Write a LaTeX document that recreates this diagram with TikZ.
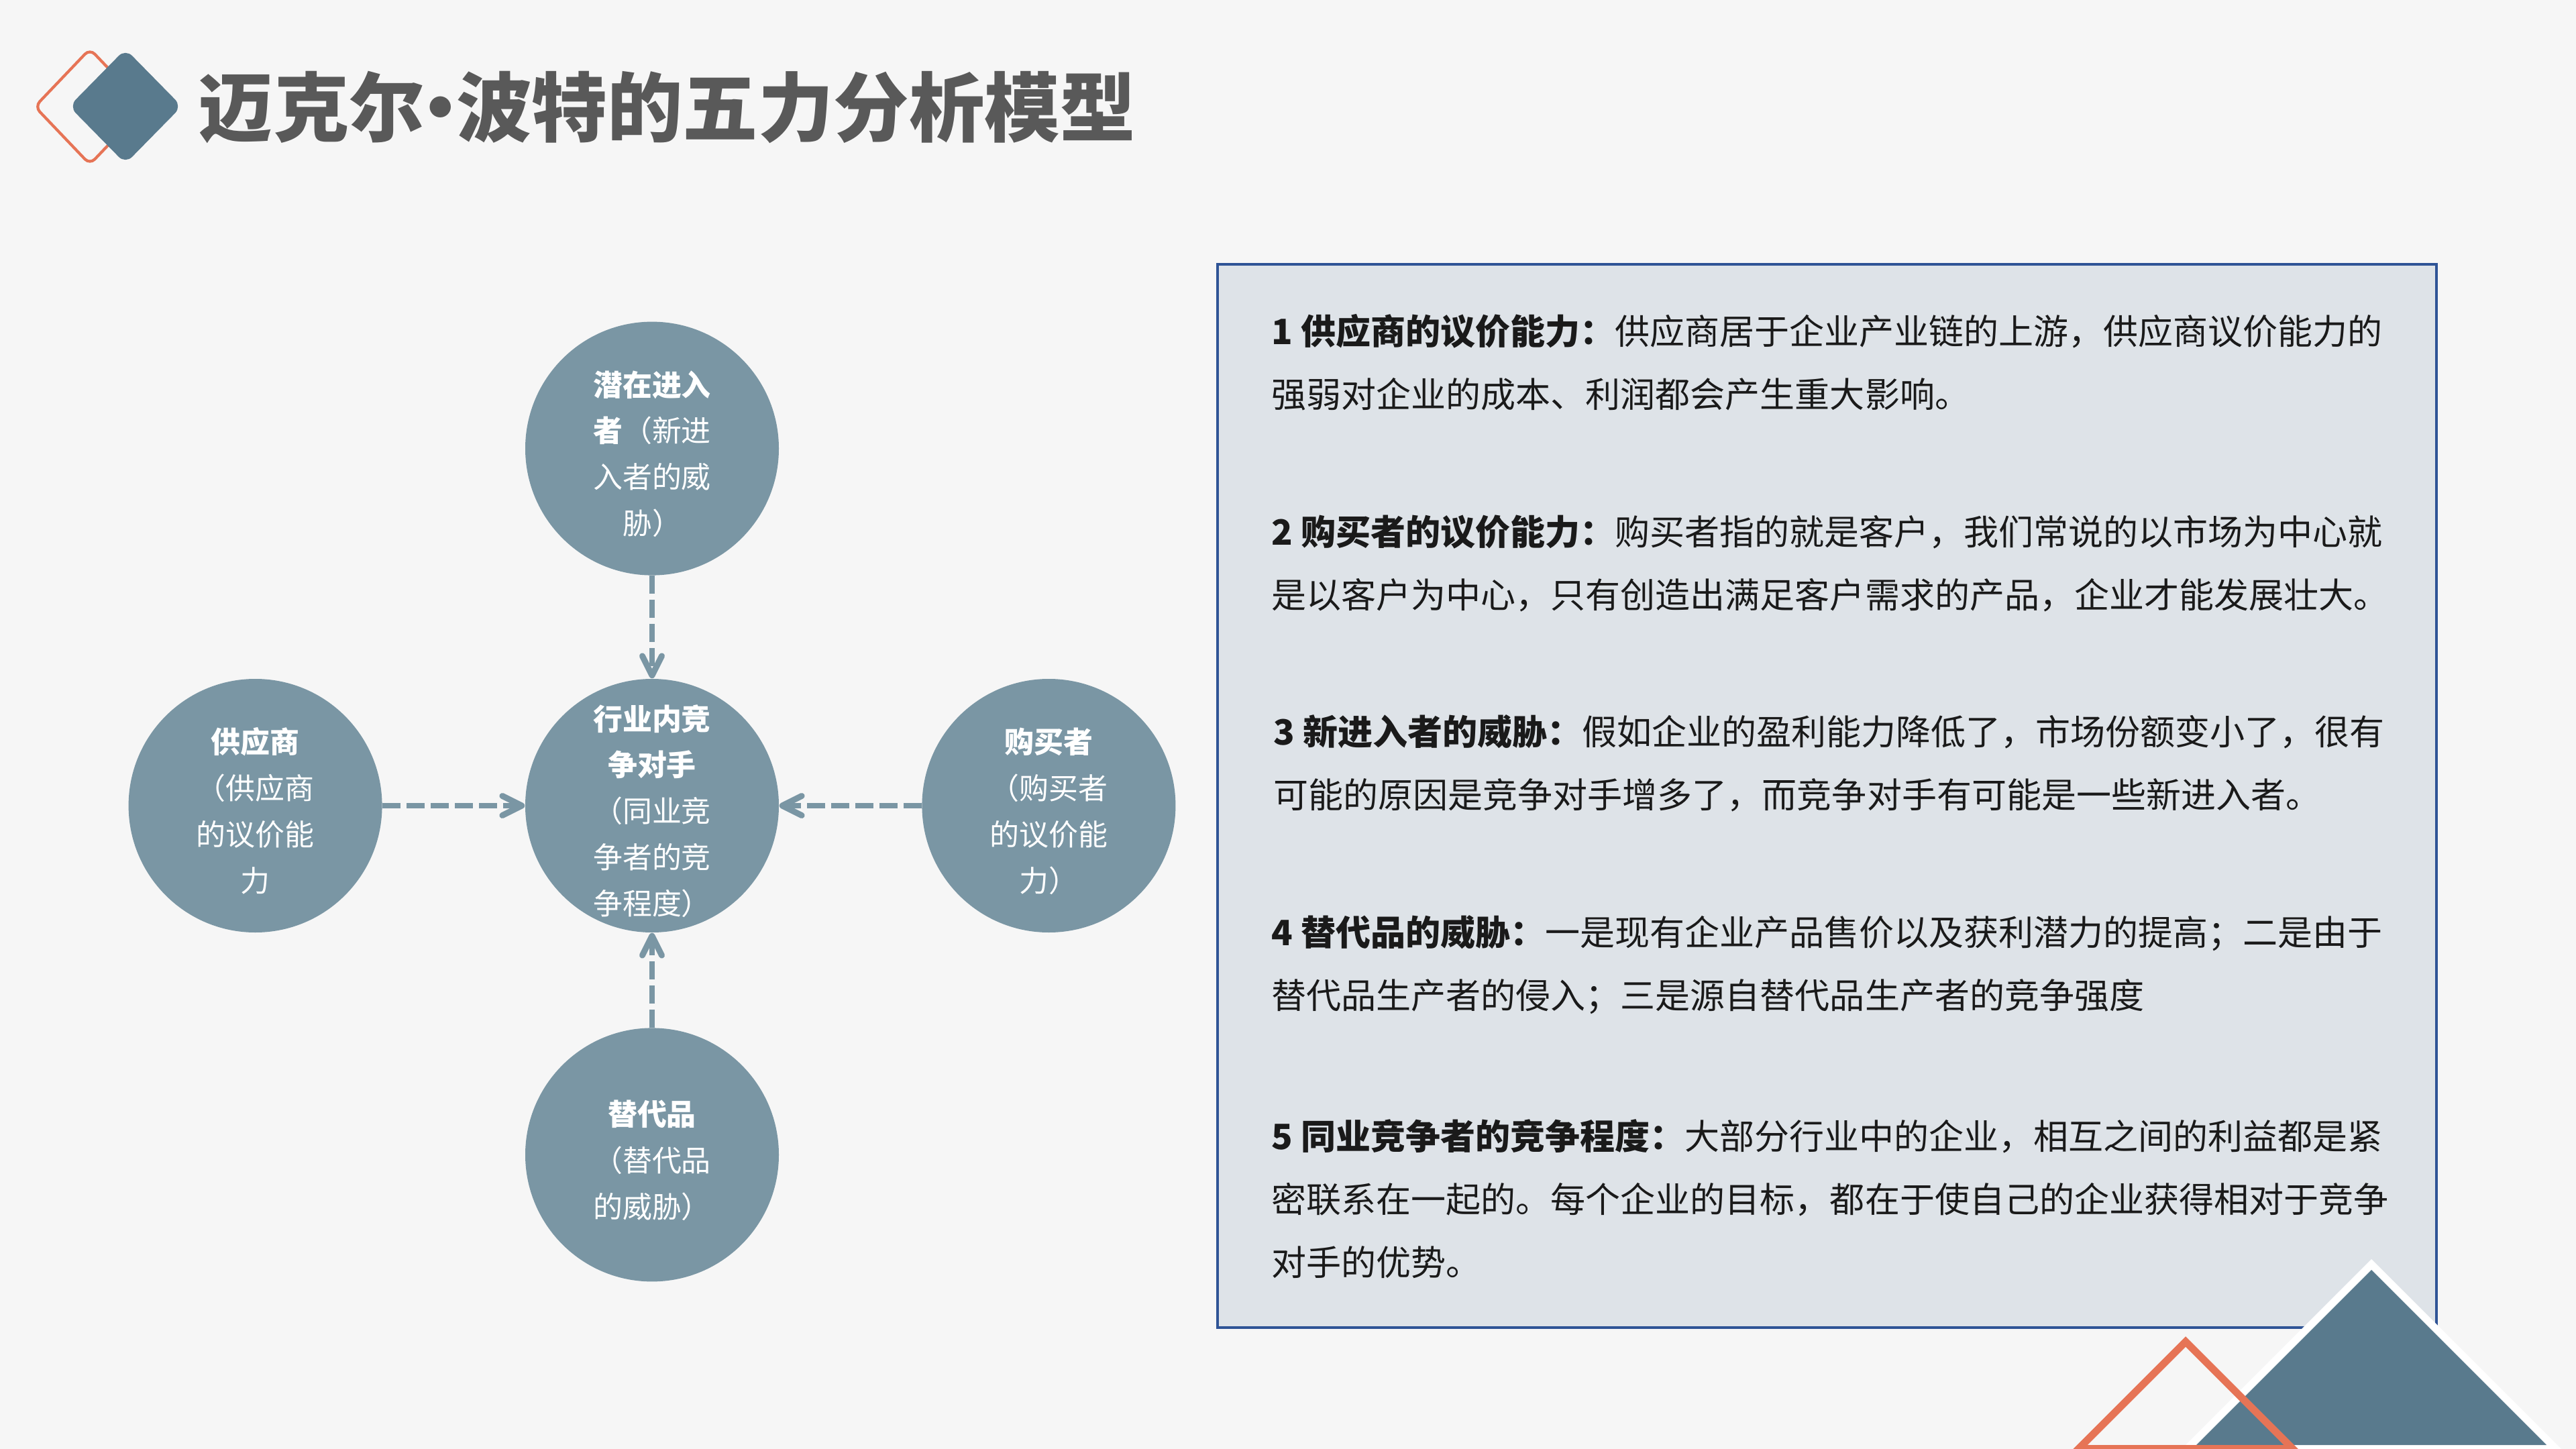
\documentclass[tikz,border=0pt]{standalone}
\usepackage{fontspec}
\setmainfont{Noto Sans CJK SC}
\usetikzlibrary{arrows.meta,positioning}
\definecolor{bg}{RGB}{246,246,246}
\definecolor{slate}{RGB}{89,122,141}
\definecolor{forcefill}{RGB}{122,150,164}
\definecolor{coral}{RGB}{230,116,86}
\definecolor{panelfill}{RGB}{222,227,232}
\definecolor{panelline}{RGB}{47,84,150}
\definecolor{titlegray}{RGB}{89,89,89}
\definecolor{ink}{RGB}{26,26,26}
\tikzset{
  force/.style={circle,fill=forcefill,minimum size=3.78cm,inner sep=0pt},
  forcetxt/.style={text=white,align=center,inner sep=0pt,font=\fontsize{12.5}{19.6}\selectfont},
  flow/.style={-{Straight Barb[round,length=2.9mm,width=2.9mm]},line width=2.55pt,draw=forcefill,dash pattern=on 7.7pt off 2.55pt},
  panel/.style={draw=panelline,fill=panelfill,line width=1.1pt,minimum width=18.17cm,minimum height=15.85cm,inner sep=0pt},
  para/.style={anchor=west,align=left,text=ink,inner sep=0pt,font=\fontsize{14.8}{26.75}\selectfont},
  titletxt/.style={anchor=west,text=titlegray,inner sep=0pt,font=\fontsize{32}{38}\selectfont\bfseries},
}
\begin{document}
\begin{tikzpicture}
  % page
  \fill[bg] (0,0) rectangle (38.4,-21.6);
  \useasboundingbox (0,0) rectangle (38.4,-21.6);

  % title with logo
  \draw[coral,line width=1.2pt,rounded corners=3pt] (1.34,-0.73) -- (2.16,-1.59) -- (1.34,-2.45) -- (0.52,-1.59) -- cycle;
  \fill[slate,rounded corners=4pt] (1.87,-0.73) -- (2.71,-1.585) -- (1.87,-2.44) -- (1.03,-1.585) -- cycle;
  \node[titletxt] (title) at (2.95,-1.60) {迈克尔\makebox[0.42em]{•}波特的五力分析模型};

  % five forces
  \node[force] (rival) at (9.72,-12.01) {};
  \node[force,above=15.3mm of rival] (entrant) {};
  \node[force,below=14.1mm of rival] (substitute) {};
  \node[force,left=21.2mm of rival] (supplier) {};
  \node[force,right=21.2mm of rival] (buyer) {};
  \node[forcetxt] (rival-t) at ([yshift=-0.08cm]rival.center) {\textbf{行业内竞}\\\textbf{争对手}\\（同业竞\\争者的竞\\争程度）};
  \node[forcetxt] (entrant-t) at ([yshift=-0.08cm]entrant.center) {\textbf{潜在进入}\\\textbf{者}（新进\\入者的威\\胁）};
  \node[forcetxt] (substitute-t) at ([yshift=-0.08cm]substitute.center) {\textbf{替代品}\\（替代品\\的威胁）};
  \node[forcetxt] (supplier-t) at ([yshift=-0.08cm]supplier.center) {\textbf{供应商}\\（供应商\\的议价能\\力};
  \node[forcetxt] (buyer-t) at ([yshift=-0.08cm]buyer.center) {\textbf{购买者}\\（购买者\\的议价能\\力）};
  \draw[flow] (entrant) -- (rival);
  \draw[flow] (substitute) -- (rival);
  \draw[flow] (supplier) -- (rival);
  \draw[flow] (buyer) -- (rival);

  % explanation panel
  \node[panel] (panel) at (27.235,-11.865) {};
  \node[para] (p1) at (18.95,-5.40) {\textbf{1 供应商的议价能力：}供应商居于企业产业链的上游，供应商议价能力的\\强弱对企业的成本、利润都会产生重大影响。};
  \node[para] (p2) at (18.95,-8.40) {\textbf{2 购买者的议价能力：}购买者指的就是客户，我们常说的以市场为中心就\\是以客户为中心，只有创造出满足客户需求的产品，企业才能发展壮大。};
  \node[para] (p3) at (18.98,-11.38) {\textbf{3 新进入者的威胁：}假如企业的盈利能力降低了，市场份额变小了，很有\\可能的原因是竞争对手增多了，而竞争对手有可能是一些新进入者。};
  \node[para] (p4) at (18.95,-14.38) {\textbf{4 替代品的威胁：}一是现有企业产品售价以及获利潜力的提高；二是由于\\替代品生产者的侵入；三是源自替代品生产者的竞争强度};
  \node[para] (p5) at (18.95,-17.87) {\textbf{5 同业竞争者的竞争程度：}大部分行业中的企业，相互之间的利益都是紧\\密联系在一起的。每个企业的目标，都在于使自己的企业获得相对于竞争\\对手的优势。};

  % corner triangles
  \fill[white] (35.35,-18.77) -- (38.18,-21.6) -- (32.52,-21.6) -- cycle;
  \fill[slate] (35.35,-18.93) -- (37.96,-21.54) -- (32.74,-21.54) -- cycle;
  \draw[coral,line width=0.11cm,line join=miter] (32.58,-20.00) -- (34.175,-21.595) -- (30.985,-21.595) -- cycle;
\end{tikzpicture}
\end{document}
